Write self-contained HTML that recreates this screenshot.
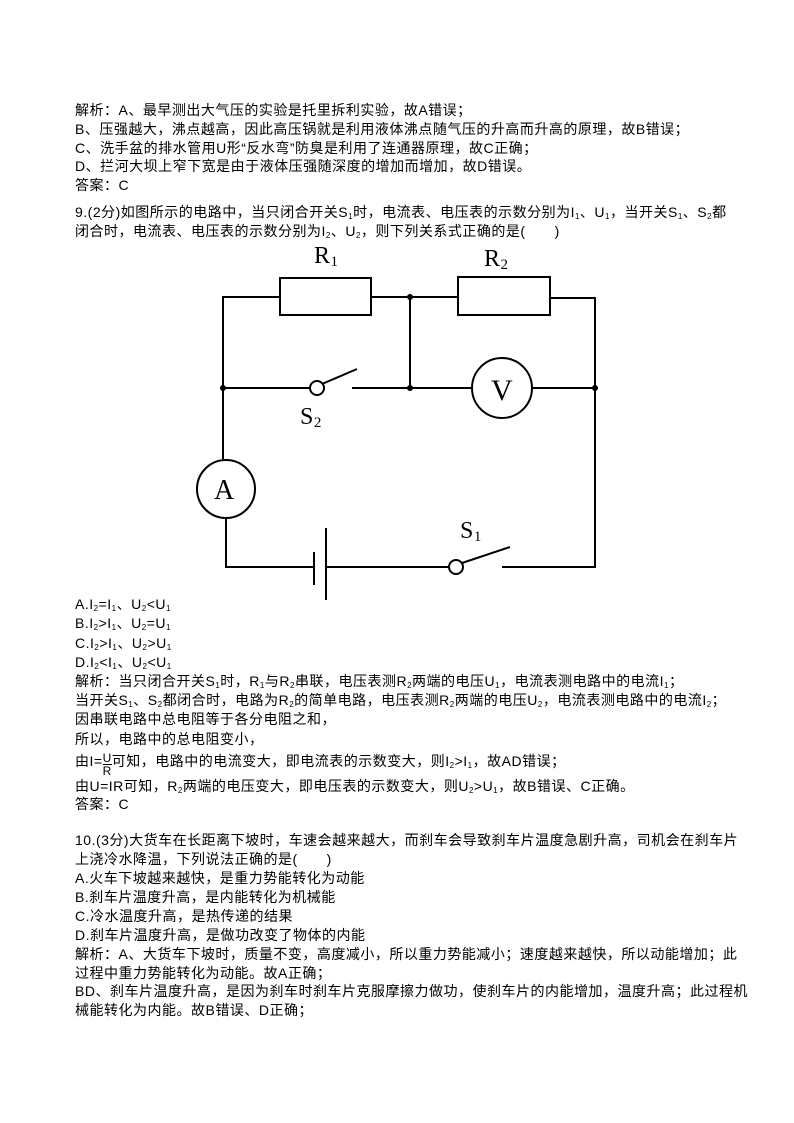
<!DOCTYPE html>
<html><head><meta charset="utf-8"><style>
body{margin:0;background:#fff;}
.pg{position:relative;width:794px;height:1123px;overflow:hidden;font-family:"Liberation Sans","Noto Sans CJK SC",sans-serif;font-size:14px;letter-spacing:0.5px;color:#000;}
.l{position:absolute;left:75px;white-space:nowrap;line-height:16px;}
sub{font-size:8px;vertical-align:-2px;line-height:0;}
</style></head><body><div class="pg">
<div class="l" style="top:102px">解析：A、最早测出大气压的实验是托里拆利实验，故A错误；</div>
<div class="l" style="top:121px">B、压强越大，沸点越高，因此高压锅就是利用液体沸点随气压的升高而升高的原理，故B错误；</div>
<div class="l" style="top:140px">C、洗手盆的排水管用U形“反水弯”防臭是利用了连通器原理，故C正确；</div>
<div class="l" style="top:158px">D、拦河大坝上窄下宽是由于液体压强随深度的增加而增加，故D错误。</div>
<div class="l" style="top:177px">答案：C</div>
<div class="l" style="top:204px">9.(2分)如图所示的电路中，当只闭合开关S<sub>1</sub>时，电流表、电压表的示数分别为I<sub>1</sub>、U<sub>1</sub>，当开关S<sub>1</sub>、S<sub>2</sub>都</div>
<div class="l" style="top:223px">闭合时，电流表、电压表的示数分别为I<sub>2</sub>、U<sub>2</sub>，则下列关系式正确的是(　　)</div>

<svg style="position:absolute;left:0;top:0" width="794" height="1123">
<g stroke="#000" stroke-width="2" fill="none">
<polyline points="223,459 223,297 280,297"/>
<rect x="280" y="278" width="91" height="37"/>
<line x1="371" y1="297" x2="458" y2="297"/>
<rect x="458" y="277" width="92" height="38"/>
<polyline points="550,298 595,298 595,567 502,567"/>
<line x1="410" y1="297" x2="410" y2="388"/>
<line x1="223" y1="388" x2="310" y2="388"/>
<circle cx="317" cy="388" r="7"/>
<line x1="322" y1="384" x2="357" y2="369"/>
<line x1="352" y1="388" x2="472" y2="388"/>
<circle cx="502" cy="388" r="30"/>
<line x1="532" y1="388" x2="595" y2="388"/>
<circle cx="226" cy="489" r="29"/>
<polyline points="226,518 226,567 314,567"/>
<line x1="314" y1="552" x2="314" y2="585"/>
<line x1="326" y1="528" x2="326" y2="600"/>
<line x1="326" y1="567" x2="449" y2="567"/>
<circle cx="456" cy="567" r="7"/>
<line x1="462" y1="563" x2="510" y2="547"/>
</g>
<g fill="#000">
<circle cx="223" cy="388" r="3"/><circle cx="410" cy="297" r="3"/><circle cx="410" cy="388" r="3"/><circle cx="595" cy="388" r="3"/>
</g>
<g font-family="Liberation Serif,serif" fill="#000">
<text x="314" y="263" font-size="24">R<tspan font-size="15" dy="3">1</tspan></text>
<text x="484" y="266" font-size="24">R<tspan font-size="15" dy="3">2</tspan></text>
<text x="300" y="424" font-size="24">S<tspan font-size="15" dy="3">2</tspan></text>
<text x="460" y="538" font-size="24">S<tspan font-size="15" dy="3">1</tspan></text>
<text x="491" y="400" font-size="30">V</text>
<text x="214" y="499" font-size="28">A</text>
</g>
</svg>

<div class="l" style="top:596px">A.I<sub>2</sub>=I<sub>1</sub>、U<sub>2</sub>&lt;U<sub>1</sub></div>
<div class="l" style="top:615px">B.I<sub>2</sub>&gt;I<sub>1</sub>、U<sub>2</sub>=U<sub>1</sub></div>
<div class="l" style="top:635px">C.I<sub>2</sub>&gt;I<sub>1</sub>、U<sub>2</sub>&gt;U<sub>1</sub></div>
<div class="l" style="top:654px">D.I<sub>2</sub>&lt;I<sub>1</sub>、U<sub>2</sub>&lt;U<sub>1</sub></div>
<div class="l" style="top:673px">解析：当只闭合开关S<sub>1</sub>时，R<sub>1</sub>与R<sub>2</sub>串联，电压表测R<sub>2</sub>两端的电压U<sub>1</sub>，电流表测电路中的电流I<sub>1</sub>；</div>
<div class="l" style="top:692px">当开关S<sub>1</sub>、S<sub>2</sub>都闭合时，电路为R<sub>2</sub>的简单电路，电压表测R<sub>2</sub>两端的电压U<sub>2</sub>，电流表测电路中的电流I<sub>2</sub>；</div>
<div class="l" style="top:711px">因串联电路中总电阻等于各分电阻之和，</div>
<div class="l" style="top:731px">所以，电路中的总电阻变小，</div>
<div class="l" style="top:750px">由I=<span style="display:inline-block;vertical-align:middle;text-align:center;line-height:12px;font-size:12px;position:relative;top:2px"><span style="border-bottom:1px solid #000;display:block">U</span>R</span>可知，电路中的电流变大，即电流表的示数变大，则I<sub>2</sub>&gt;I<sub>1</sub>，故AD错误；</div>
<div class="l" style="top:778px">由U=IR可知，R<sub>2</sub>两端的电压变大，即电压表的示数变大，则U<sub>2</sub>&gt;U<sub>1</sub>，故B错误、C正确。</div>
<div class="l" style="top:796px">答案：C</div>
<div class="l" style="top:832px">10.(3分)大货车在长距离下坡时，车速会越来越大，而刹车会导致刹车片温度急剧升高，司机会在刹车片</div>
<div class="l" style="top:851px">上浇冷水降温，下列说法正确的是(　　)</div>
<div class="l" style="top:870px">A.火车下坡越来越快，是重力势能转化为动能</div>
<div class="l" style="top:889px">B.刹车片温度升高，是内能转化为机械能</div>
<div class="l" style="top:908px">C.冷水温度升高，是热传递的结果</div>
<div class="l" style="top:927px">D.刹车片温度升高，是做功改变了物体的内能</div>
<div class="l" style="top:946px">解析：A、大货车下坡时，质量不变，高度减小，所以重力势能减小；速度越来越快，所以动能增加；此</div>
<div class="l" style="top:965px">过程中重力势能转化为动能。故A正确；</div>
<div class="l" style="top:983px">BD、刹车片温度升高，是因为刹车时刹车片克服摩擦力做功，使刹车片的内能增加，温度升高；此过程机</div>
<div class="l" style="top:1002px">械能转化为内能。故B错误、D正确；</div>
</div></body></html>
